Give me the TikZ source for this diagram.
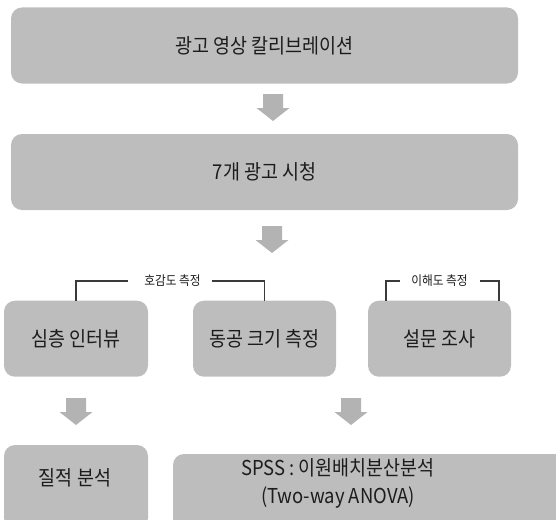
\documentclass[tikz,border=0pt]{standalone}
\usepackage{fontspec}
\setmainfont{Noto Sans CJK KR}[FakeStretch=0.9]
\definecolor{boxgray}{HTML}{BDBDBD}
\definecolor{arrgray}{HTML}{B3B3B3}
\definecolor{txtc}{HTML}{1C1C1C}
\definecolor{linec}{HTML}{3A3A3A}
\newcommand\blockdown[2]{\fill[blockarrow] ({#1-10},#2) -- ++(20,0) -- ++(0,14) -- ++(6.5,0) -- ++(-16.5,13) -- ++(-16.5,-13) -- ++(6.5,0) -- cycle;}
\begin{document}
\begin{tikzpicture}[x=1pt,y=-1pt,
 box/.style={fill=boxgray, rounded corners=11pt, inner sep=0pt, text=txtc, align=center, font=\fontsize{20.5}{28}\selectfont},
 boxtext/.style={inner sep=0pt, text=txtc, align=center, font=\fontsize{20.5}{28}\selectfont},
 lbl/.style={font=\fontsize{13}{14}\selectfont, text=txtc, inner xsep=7pt, inner ysep=0pt},
 bracket/.style={draw=linec, line width=1.4pt},
 blockarrow/.style={fill=arrgray}]
\useasboundingbox (0,0) rectangle (556,519);
\clip (0,0) rectangle (556,519);

\node[box, minimum width=507pt, minimum height=76pt] (b1) at (264.5,45.5) {광고 영상 칼리브레이션};
\node[box, minimum width=507pt, minimum height=76pt] (b2) at (264.5,172) {7개 광고 시청};
\node[box, minimum width=144pt, minimum height=76pt] (b3a) at (76,338.7) {심층 인터뷰};
\node[box, minimum width=143pt, minimum height=76pt] (b3b) at (264.5,338.7) {동공 크기 측정};
\node[box, minimum width=143pt, minimum height=76pt] (b3c) at (439.5,338.7) {설문 조사};

\node[lbl] (l1) at (172.5,281) {호감도 측정};
\node[lbl] (l2) at (439.5,281) {이해도 측정};
\coordinate (c1) at (76,281);
\coordinate (c2) at (128,281);
\coordinate (c3) at (212,281);
\coordinate (c4) at (386,281);
\coordinate (c5) at (400,281);
\coordinate (c6) at (480,281);
\coordinate (c7) at (499,281);
\draw[bracket] (b3a.north) -- (c1) -- (c2);
\draw[bracket] (c3) -| (b3b.north);
\draw[bracket] (c5) -- (c4) -- (c4 |- b3c.north);
\draw[bracket] (c6) -- (c7) -- (c7 |- b3c.north);

\node[box, minimum width=144pt, minimum height=84pt] (b4a) at (76,487) {};
\node[boxtext] (t4a) at (75,478) {질적 분석};
\node[box, minimum width=400pt, minimum height=84pt] (b4b) at (373,496) {};
\node[boxtext] (t4b) at (338,483) {SPSS : 이원배치분산분석\\(Two-way ANOVA)};

\blockdown{273}{94}
\blockdown{272}{226}
\blockdown{76}{398}
\blockdown{351}{398}
\end{tikzpicture}
\end{document}
